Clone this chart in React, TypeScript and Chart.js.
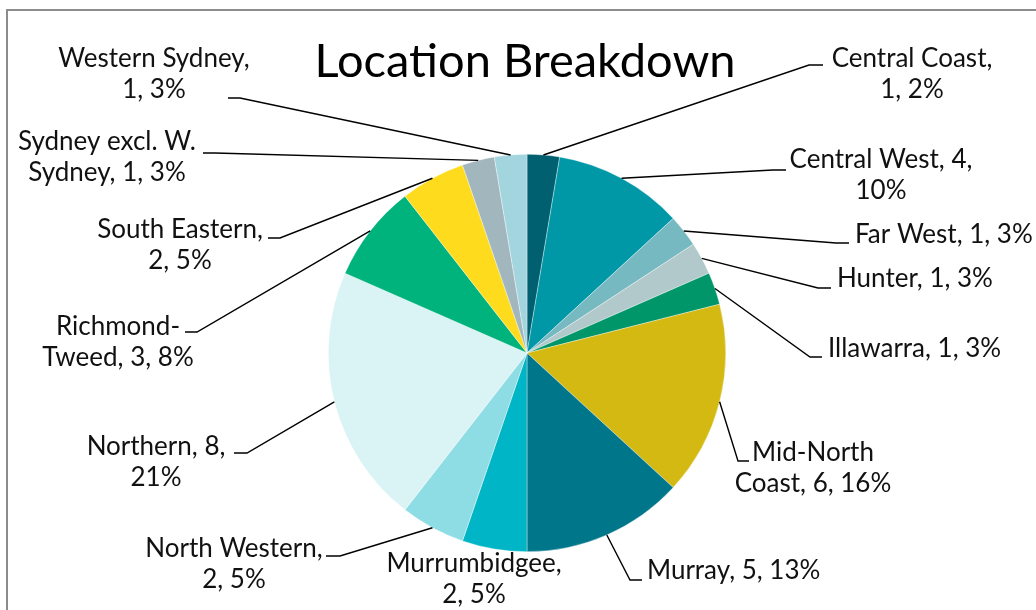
import { useEffect, useRef } from "react";
import { Chart, registerables } from "chart.js";

Chart.register(...registerables);

const title = "Location Breakdown";

const categories = [
  "Central Coast",
  "Central West",
  "Far West",
  "Hunter",
  "Illawarra",
  "Mid-North Coast",
  "Murray",
  "Murrumbidgee",
  "North Western",
  "Northern",
  "Richmond-Tweed",
  "South Eastern",
  "Sydney excl. W. Sydney",
  "Western Sydney",
];

const values = [1, 4, 1, 1, 1, 6, 5, 2, 2, 8, 3, 2, 1, 1];

const percentLabels = [2, 10, 3, 3, 3, 16, 13, 5, 5, 21, 8, 5, 3, 3];

const sliceColors = [
  "#00606F",
  "#0097A7",
  "#76B9C1",
  "#B2C9CC",
  "#009669",
  "#D3B912",
  "#00768B",
  "#00B5C5",
  "#8FDDE4",
  "#DAF3F5",
  "#00B27C",
  "#FEDB1C",
  "#A1B6BD",
  "#A3D5DF",
];

// words kept on the first line of each data label (0 = single line)
const firstLineWords = [2, 3, 0, 0, 0, 2, 0, 1, 2, 2, 1, 2, 3, 2];

// label placement: text anchor (x, baseline y), leader elbow (ex, ey), tail end tx
const labelLayout = [
  { x: 912, y: 67, align: "center", ex: 809, ey: 65, tx: 823 },
  { x: 881, y: 168, align: "center", ex: 773, ey: 170, tx: 786 },
  { x: 855, y: 243, align: "left", ex: 836, ey: 243, tx: 849 },
  { x: 837, y: 287, align: "left", ex: 818, ey: 288, tx: 831 },
  { x: 828, y: 357, align: "left", ex: 810, ey: 357, tx: 822 },
  { x: 813, y: 461, align: "center", ex: 738, ey: 461, tx: 749 },
  { x: 647, y: 579, align: "left", ex: 630, ey: 580, tx: 642 },
  { x: 474, y: 572, align: "center", ex: null, ey: null, tx: null },
  { x: 234, y: 557, align: "center", ex: 340, ey: 556, tx: 326 },
  { x: 156, y: 455, align: "center", ex: 247, ey: 453, tx: 234 },
  { x: 118, y: 335, align: "center", ex: 197, ey: 332, tx: 185 },
  { x: 180, y: 238, align: "center", ex: 280, ey: 238, tx: 268 },
  { x: 107, y: 150, align: "center", ex: 215, ey: 153, tx: 203 },
  { x: 154, y: 67, align: "center", ex: 240, ey: 98, tx: 228 },
];

const FONT = "Lato, 'Open Sans', sans-serif";
const LABEL_SIZE = 26;
const LINE_GAP = 31;

function tokenize(s: string): string[] {
  const out: string[] = [];
  s.split(" ").forEach((w) => {
    const parts = w.split(/(?<=-)/);
    parts.forEach((p, j) => out.push(j < parts.length - 1 ? p : p + " "));
  });
  return out;
}

function labelLines(i: number): string[] {
  const text = `${categories[i]}, ${values[i]}, ${percentLabels[i]}%`;
  const n = firstLineWords[i];
  if (!n) return [text];
  const toks = tokenize(text);
  return [toks.slice(0, n).join("").trim(), toks.slice(n).join("").trim()];
}

const labelPlugin = {
  id: "excelLabels",
  afterDatasetsDraw(chart: any) {
    const ctx = chart.ctx as CanvasRenderingContext2D;
    const meta = chart.getDatasetMeta(0);
    ctx.save();
    // leader lines
    meta.data.forEach((arc: any, i: number) => {
      const L = labelLayout[i];
      if (L.ex == null) return;
      const p = arc.getProps(["x", "y", "startAngle", "endAngle", "outerRadius"], true);
      const mid = (p.startAngle + p.endAngle) / 2;
      const sx = p.x + Math.cos(mid) * p.outerRadius;
      const sy = p.y + Math.sin(mid) * p.outerRadius;
      ctx.beginPath();
      ctx.moveTo(sx, sy);
      ctx.lineTo(L.ex, L.ey);
      ctx.lineTo(L.tx, L.ey);
      ctx.strokeStyle = "#000";
      ctx.lineWidth = 1.4;
      ctx.stroke();
    });
    // label text
    ctx.fillStyle = "#111";
    ctx.font = `${LABEL_SIZE}px ${FONT}`;
    ctx.textBaseline = "alphabetic";
    meta.data.forEach((_arc: any, i: number) => {
      const L = labelLayout[i];
      ctx.textAlign = L.align as CanvasTextAlign;
      labelLines(i).forEach((line, k) => {
        ctx.fillText(line, L.x, L.y + k * LINE_GAP);
      });
    });
    // title
    ctx.font = `47px ${FONT}`;
    ctx.textAlign = "center";
    ctx.fillStyle = "#000";
    ctx.fillText(title, 525, 77);
    ctx.restore();
  },
};

export default function App() {
  const ref = useRef<HTMLCanvasElement | null>(null);
  useEffect(() => {
    if (!ref.current) return;
    const chart = new Chart(ref.current, {
      type: "pie",
      data: {
        labels: categories,
        datasets: [
          {
            data: values,
            backgroundColor: sliceColors,
            borderColor: "rgba(255,255,255,0.6)",
            borderWidth: 0.6,
          },
        ],
      },
      options: {
        animation: false,
        responsive: false,
        devicePixelRatio: 1,
        layout: { padding: { top: 154, bottom: 58, left: 328, right: 310 } },
        plugins: {
          legend: { display: false },
          tooltip: { enabled: false },
          title: { display: false },
        },
      },
      plugins: [labelPlugin],
    });
    return () => chart.destroy();
  }, []);

  return (
    <div
      style={{
        position: "fixed",
        left: 0,
        top: 0,
        width: 1036,
        height: 610,
        overflow: "hidden",
        background: "#fff",
      }}
    >
      <div
        style={{
          position: "absolute",
          left: 6,
          top: 9,
          width: 1200,
          height: 800,
          border: "2px solid #8c8c8c",
        }}
      />
      <canvas
        ref={ref}
        width={1036}
        height={610}
        style={{ position: "absolute", left: 0, top: 0, width: 1036, height: 610 }}
      />
    </div>
  );
}
